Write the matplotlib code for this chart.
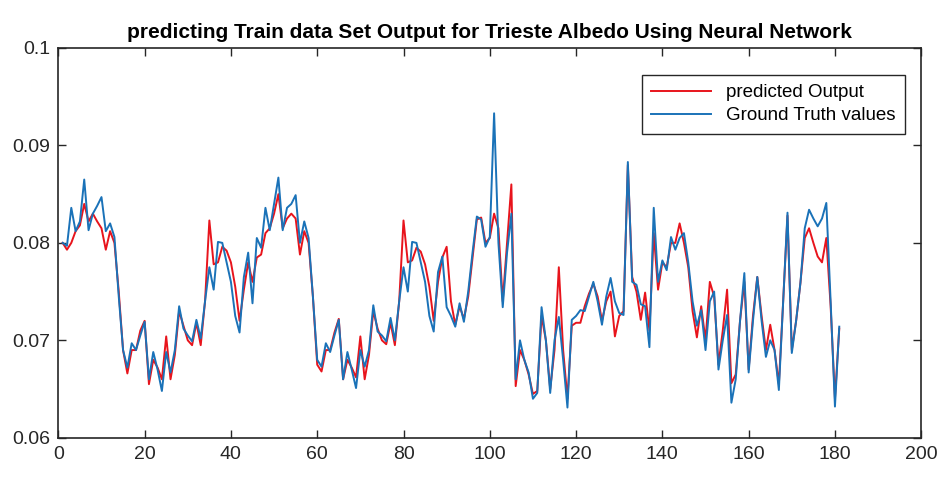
import numpy as np
import matplotlib
matplotlib.use("Agg")
import matplotlib.pyplot as plt

plt.rcParams['font.family'] = ['Liberation Sans', 'DejaVu Sans']

# ground truth albedo values
ground_truth = [
    0.0800, 0.0797, 0.0836, 0.0812, 0.0822, 0.0865, 0.0813, 0.0830, 0.0838, 0.0847,
    0.0812, 0.0820, 0.0806, 0.0745, 0.0690, 0.0672, 0.0697, 0.0690, 0.0705, 0.0719,
    0.0660, 0.0688, 0.0670, 0.0648, 0.0688, 0.0667, 0.0690, 0.0735, 0.0712, 0.0705,
    0.0699, 0.0721, 0.0702, 0.0740, 0.0775, 0.0752, 0.0801, 0.0800, 0.0780, 0.0760,
    0.0725, 0.0708, 0.0765, 0.0790, 0.0738, 0.0805, 0.0795, 0.0836, 0.0813, 0.0840,
    0.0867, 0.0813, 0.0836, 0.0840, 0.0849, 0.0800, 0.0822, 0.0805, 0.0745, 0.0680,
    0.0673, 0.0697, 0.0688, 0.0705, 0.0721, 0.0660, 0.0688, 0.0670, 0.0651, 0.0690,
    0.0673, 0.0690, 0.0736, 0.0709, 0.0705, 0.0699, 0.0723, 0.0700, 0.0740, 0.0775,
    0.0750, 0.0801, 0.0800, 0.0780, 0.0760, 0.0725, 0.0709, 0.0770, 0.0786, 0.0734,
    0.0725, 0.0714, 0.0738, 0.0719, 0.0750, 0.0790, 0.0827, 0.0824, 0.0796, 0.0806,
    0.0933, 0.0800, 0.0734, 0.0790, 0.0830, 0.0660, 0.0700, 0.0680, 0.0667, 0.0640,
    0.0646, 0.0734, 0.0700, 0.0646, 0.0700, 0.0724, 0.0680, 0.0631, 0.0721, 0.0725,
    0.0731, 0.0730, 0.0745, 0.0760, 0.0740, 0.0716, 0.0745, 0.0764, 0.0740, 0.0728,
    0.0726, 0.0883, 0.0760, 0.0757, 0.0737, 0.0735, 0.0693, 0.0836, 0.0760, 0.0782,
    0.0772, 0.0806, 0.0793, 0.0805, 0.0810, 0.0780, 0.0740, 0.0715, 0.0731, 0.0690,
    0.0740, 0.0750, 0.0670, 0.0700, 0.0726, 0.0636, 0.0660, 0.0720, 0.0769, 0.0667,
    0.0720, 0.0765, 0.0720, 0.0683, 0.0700, 0.0690, 0.0649, 0.0740, 0.0831, 0.0687,
    0.0720, 0.0759, 0.0815, 0.0834, 0.0825, 0.0817, 0.0825, 0.0841, 0.0740, 0.0632,
    0.0714,
]

# network output for the same samples
predicted = [
    0.0800, 0.0793, 0.0800, 0.0812, 0.0818, 0.0840, 0.0822, 0.0830, 0.0822, 0.0815,
    0.0793, 0.0812, 0.0800, 0.0750, 0.0690, 0.0666, 0.0690, 0.0690, 0.0710, 0.0720,
    0.0655, 0.0680, 0.0672, 0.0660, 0.0704, 0.0660, 0.0685, 0.0730, 0.0715, 0.0700,
    0.0695, 0.0718, 0.0695, 0.0740, 0.0823, 0.0778, 0.0780, 0.0796, 0.0792, 0.0780,
    0.0755, 0.0720, 0.0752, 0.0780, 0.0760, 0.0785, 0.0788, 0.0810, 0.0815, 0.0830,
    0.0850, 0.0815, 0.0825, 0.0830, 0.0825, 0.0788, 0.0812, 0.0800, 0.0745, 0.0675,
    0.0668, 0.0690, 0.0690, 0.0708, 0.0722, 0.0660, 0.0680, 0.0672, 0.0662, 0.0704,
    0.0660, 0.0685, 0.0730, 0.0712, 0.0700, 0.0696, 0.0718, 0.0695, 0.0740, 0.0823,
    0.0780, 0.0782, 0.0795, 0.0791, 0.0778, 0.0755, 0.0720, 0.0760, 0.0785, 0.0796,
    0.0740, 0.0716, 0.0735, 0.0722, 0.0745, 0.0785, 0.0824, 0.0826, 0.0800, 0.0805,
    0.0830, 0.0815, 0.0740, 0.0800, 0.0860, 0.0653, 0.0690, 0.0680, 0.0665, 0.0645,
    0.0648, 0.0725, 0.0700, 0.0650, 0.0690, 0.0775, 0.0690, 0.0640, 0.0715, 0.0718,
    0.0718, 0.0735, 0.0748, 0.0758, 0.0745, 0.0720, 0.0740, 0.0750, 0.0704, 0.0725,
    0.0730, 0.0880, 0.0765, 0.0750, 0.0721, 0.0749, 0.0710, 0.0810, 0.0752, 0.0780,
    0.0775, 0.0800, 0.0800, 0.0820, 0.0800, 0.0775, 0.0730, 0.0703, 0.0735, 0.0700,
    0.0760, 0.0745, 0.0675, 0.0710, 0.0752, 0.0656, 0.0665, 0.0720, 0.0760, 0.0670,
    0.0725, 0.0765, 0.0725, 0.0690, 0.0716, 0.0690, 0.0655, 0.0740, 0.0828, 0.0690,
    0.0720, 0.0759, 0.0805, 0.0815, 0.0800, 0.0786, 0.0780, 0.0805, 0.0735, 0.0640,
    0.0712,
]

x_ticks = [0, 20, 40, 60, 80, 100, 120, 140, 160, 180, 200]
y_ticks = [0.06, 0.07, 0.08, 0.09, 0.1]
y_labels = ['0.06', '0.07', '0.08', '0.09', '0.1']

samples = np.arange(1, len(ground_truth) + 1)

fig = plt.figure(figsize=(9.41, 4.8), dpi=100)
ax = fig.add_axes([0.062, 0.088, 0.917, 0.812])

ax.plot(samples, predicted, color='#e8141c', lw=1.4, label='predicted Output')
ax.plot(samples, ground_truth, color='#1a72b8', lw=1.4, label='Ground Truth values')

ax.set_xlim(0, 200)
ax.set_ylim(0.06, 0.1)
ax.set_xticks(x_ticks)
ax.set_yticks(y_ticks)
ax.set_yticklabels(y_labels)
ax.tick_params(direction='in', top=True, right=True, length=6, width=1,
               labelsize=14, colors='#262626', pad=6)
for sp in ax.spines.values():
    sp.set_color('#262626')
    sp.set_linewidth(1.2)

ax.set_title('predicting Train data Set Output for Trieste Albedo Using Neural Network',
             fontsize=15, fontweight='bold', pad=7)

leg = ax.legend(loc='upper right', fontsize=13.5, fancybox=False, framealpha=1,
                edgecolor='#262626', borderaxespad=0, handlelength=3.2,
                borderpad=0.5, labelspacing=0.3,
                bbox_to_anchor=(0.981, 0.931))
leg.get_frame().set_linewidth(1.0)

fig.savefig('out.png', dpi=100)
